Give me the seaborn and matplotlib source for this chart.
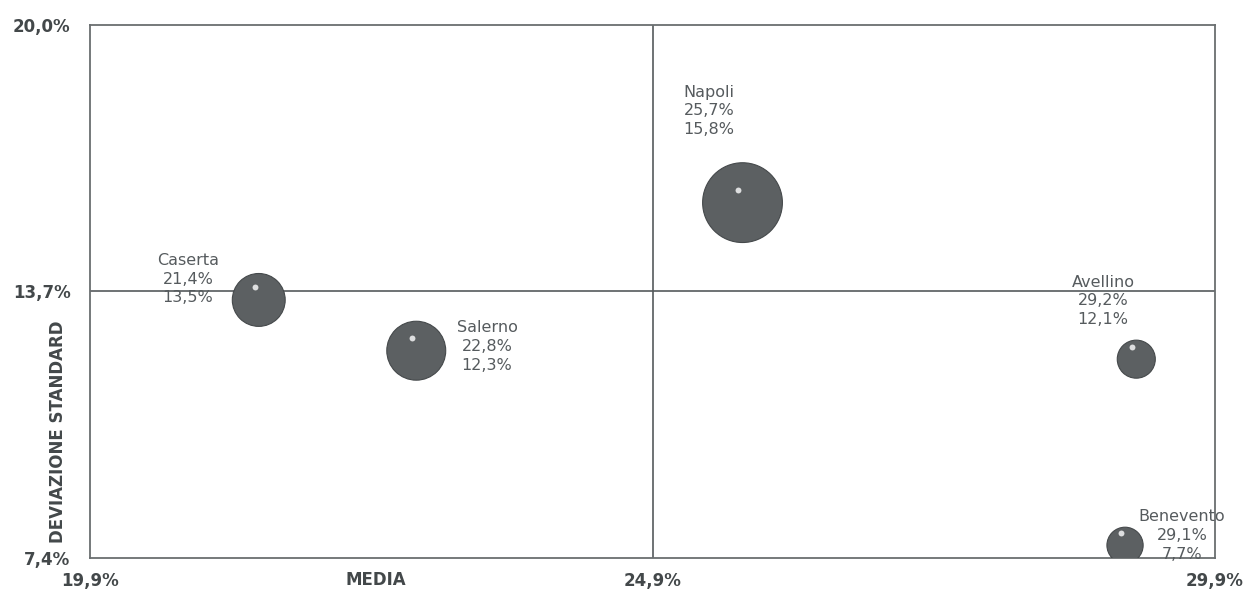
import pandas as pd
import matplotlib
matplotlib.use('Agg')
import matplotlib.pyplot as plt
import matplotlib.transforms as mtransforms
import seaborn as sns

# data
province = ['Caserta', 'Salerno', 'Napoli', 'Avellino', 'Benevento']
media = [21.4, 22.8, 25.7, 29.2, 29.1]
dev_std = [13.5, 12.3, 15.8, 12.1, 7.7]
bubble = [1450, 1800, 3300, 750, 680]   # bubble area (pt^2)

x_ticks = [19.9, 24.9, 29.9]
y_ticks = [7.4, 13.7, 20.0]
x_ticklabels = ['19,9%', '24,9%', '29,9%']
y_ticklabels = ['7,4%', '13,7%', '20,0%']
x_cross = 24.9
y_cross = 13.7

# label offsets (points) relative to each bubble
label_off = {'Caserta': (-51, 15), 'Salerno': (51, 3), 'Napoli': (-24, 66),
             'Avellino': (-24, 42), 'Benevento': (41, 7)}

df = pd.DataFrame({'provincia': province, 'media': media, 'dev_std': dev_std, 'peso': bubble})

sns.set_theme(style='white')
plt.rcParams['font.family'] = ['DejaVu Sans']

fig, ax = plt.subplots(figsize=(12.43, 5.94), dpi=100)
fig.subplots_adjust(left=0.0724, right=0.9775, top=0.958, bottom=0.0606)

ax.axvline(x_cross, color='#555a5c', lw=1.2, zorder=1)
ax.axhline(y_cross, color='#555a5c', lw=1.2, zorder=1)

sns.scatterplot(data=df, x='media', y='dev_std', size='peso',
                sizes=dict(zip(bubble, bubble)), color='#5c6062',
                edgecolor='#45494b', linewidth=0.8, legend=False, ax=ax, zorder=3)

# small highlight on each sphere
hl = mtransforms.offset_copy(ax.transData, fig=fig, x=-3, y=9, units='points')
ax.scatter(df['media'], df['dev_std'], s=18, color='white', alpha=0.8,
           transform=hl, zorder=4, linewidths=0)

for p, xv, yv in zip(province, media, dev_std):
    txt = '%s\n%s%%\n%s%%' % (p, ('%.1f' % xv).replace('.', ','), ('%.1f' % yv).replace('.', ','))
    ax.annotate(txt, (xv, yv), xytext=label_off[p], textcoords='offset points',
                ha='center', va='center', fontsize=11.5, color='#565b5e', linespacing=1.3,
                zorder=5)

ax.set_xlim(x_ticks[0], x_ticks[-1])
ax.set_ylim(y_ticks[0], y_ticks[-1])
ax.set_xticks(x_ticks)
ax.set_xticklabels(x_ticklabels, fontsize=12, fontweight='bold', color='#43484a')
ax.set_yticks(y_ticks)
ax.set_yticklabels(y_ticklabels, fontsize=12, fontweight='bold', color='#43484a')
ax.tick_params(axis='x', length=0, pad=10)
ax.tick_params(axis='y', length=0, pad=14)
ax.set_xlabel('')
ax.set_ylabel('')

for sp in ax.spines.values():
    sp.set_color('#6a6e70')
    sp.set_linewidth(1.3)

ax.text(0.254, -0.042, 'MEDIA', transform=ax.transAxes, ha='center', va='center',
        fontsize=12, fontweight='bold', color='#43484a')
ax.text(-0.028, 0.236, 'DEVIAZIONE STANDARD', transform=ax.transAxes, ha='center',
        va='center', rotation=90, fontsize=12, fontweight='bold', color='#43484a')

plt.savefig('out.png', dpi=100)
